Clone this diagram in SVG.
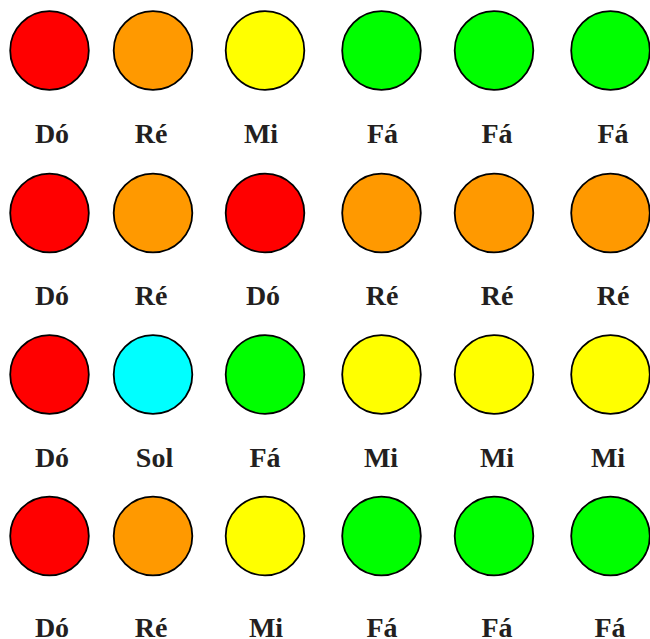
<svg xmlns="http://www.w3.org/2000/svg" width="650" height="639" viewBox="0 0 650 639">
<style>
circle{stroke:#000;stroke-width:1.8}
.r{fill:#ff0000}.o{fill:#ff9900}.y{fill:#ffff00}.g{fill:#00ff00}.c{fill:#00ffff}
text{font-family:"Liberation Serif","DejaVu Serif",serif;font-weight:bold;font-size:28px;fill:#231f20;text-anchor:middle}
</style>
<rect width="650" height="639" fill="#fff"/>
<g id="row1">
<g id="n1-1"><circle class="r" cx="49.5" cy="50.5" r="39.3"/><text x="52" y="143">Dó</text></g>
<g id="n1-2"><circle class="o" cx="153" cy="50.5" r="39.3"/><text x="151" y="143">Ré</text></g>
<g id="n1-3"><circle class="y" cx="265" cy="50.5" r="39.3"/><text x="261" y="143">Mi</text></g>
<g id="n1-4"><circle class="g" cx="381.5" cy="50.5" r="39.3"/><text x="382.5" y="143">Fá</text></g>
<g id="n1-5"><circle class="g" cx="494" cy="50.5" r="39.3"/><text x="497" y="143">Fá</text></g>
<g id="n1-6"><circle class="g" cx="610.5" cy="50.5" r="39.3"/><text x="613" y="143">Fá</text></g>
</g>
<g id="row2">
<g id="n2-1"><circle class="r" cx="49.5" cy="213" r="39.3"/><text x="52" y="305">Dó</text></g>
<g id="n2-2"><circle class="o" cx="153" cy="213" r="39.3"/><text x="151" y="305">Ré</text></g>
<g id="n2-3"><circle class="r" cx="265" cy="213" r="39.3"/><text x="263" y="305">Dó</text></g>
<g id="n2-4"><circle class="o" cx="381.5" cy="213" r="39.3"/><text x="382" y="305">Ré</text></g>
<g id="n2-5"><circle class="o" cx="494" cy="213" r="39.3"/><text x="497" y="305">Ré</text></g>
<g id="n2-6"><circle class="o" cx="610.5" cy="213" r="39.3"/><text x="613" y="305">Ré</text></g>
</g>
<g id="row3">
<g id="n3-1"><circle class="r" cx="49.5" cy="374.5" r="39.3"/><text x="52" y="467">Dó</text></g>
<g id="n3-2"><circle class="c" cx="153" cy="374.5" r="39.3"/><text x="154.5" y="467">Sol</text></g>
<g id="n3-3"><circle class="g" cx="265" cy="374.5" r="39.3"/><text x="265" y="467">Fá</text></g>
<g id="n3-4"><circle class="y" cx="381.5" cy="374.5" r="39.3"/><text x="381" y="467">Mi</text></g>
<g id="n3-5"><circle class="y" cx="494" cy="374.5" r="39.3"/><text x="497" y="467">Mi</text></g>
<g id="n3-6"><circle class="y" cx="610.5" cy="374.5" r="39.3"/><text x="608" y="467">Mi</text></g>
</g>
<g id="row4">
<g id="n4-1"><circle class="r" cx="49.5" cy="536" r="39.3"/><text x="52" y="637">Dó</text></g>
<g id="n4-2"><circle class="o" cx="153" cy="536" r="39.3"/><text x="151" y="637">Ré</text></g>
<g id="n4-3"><circle class="y" cx="265" cy="536" r="39.3"/><text x="266" y="637">Mi</text></g>
<g id="n4-4"><circle class="g" cx="381.5" cy="536" r="39.3"/><text x="382" y="637">Fá</text></g>
<g id="n4-5"><circle class="g" cx="494" cy="536" r="39.3"/><text x="497" y="637">Fá</text></g>
<g id="n4-6"><circle class="g" cx="610.5" cy="536" r="39.3"/><text x="610" y="637">Fá</text></g>
</g>
<g id="connectors"/>
</svg>
